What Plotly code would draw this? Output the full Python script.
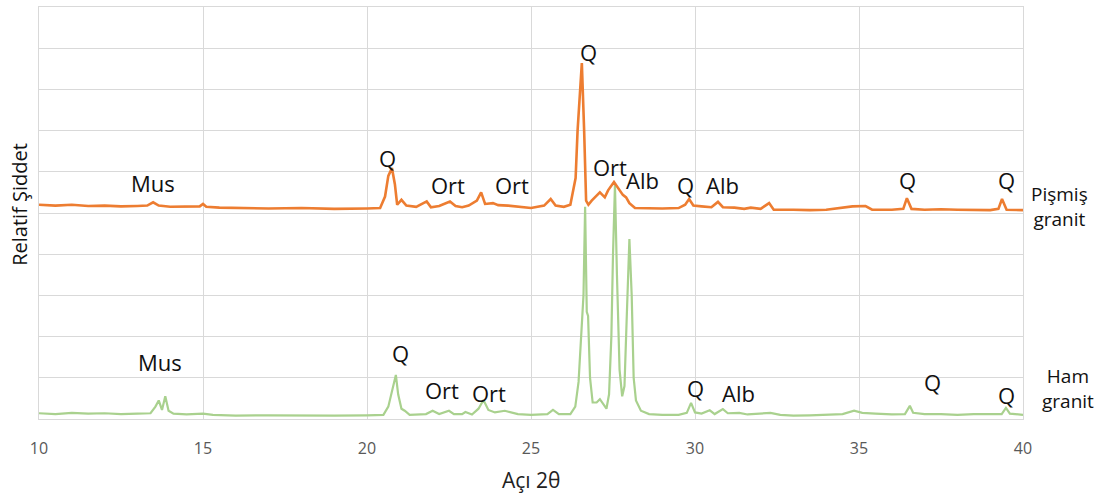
import plotly.graph_objects as go

# Ham granit (green) - 2theta and relative intensity
ham_x = [10.0, 10.5, 11.0, 11.5, 12.0, 12.5, 13.0, 13.4, 13.55, 13.65, 13.75, 13.85, 13.95, 14.1, 14.5,
         15.0, 15.3, 16.0, 17.0, 18.0, 19.0, 20.0, 20.5, 20.65, 20.8, 20.88, 20.95, 21.05, 21.15, 21.3,
         21.8, 22.0, 22.2, 22.5, 22.65, 22.9, 23.0, 23.2, 23.4, 23.55, 23.7, 23.9, 24.2, 24.4, 24.6,
         25.0, 25.5, 25.67, 25.85, 26.2, 26.35, 26.45, 26.52, 26.6, 26.65, 26.7, 26.74, 26.8, 26.88,
         27.0, 27.1, 27.2, 27.3, 27.38, 27.45, 27.5, 27.56, 27.62, 27.7, 27.78, 27.85, 27.92, 28.0,
         28.07, 28.13, 28.2, 28.35, 28.6, 29.0, 29.5, 29.75, 29.88, 30.0, 30.2, 30.45, 30.6, 30.85,
         31.0, 31.35, 31.6, 32.3, 32.6, 33.0, 33.5, 34.0, 34.5, 34.85, 35.1, 35.5, 36.0, 36.4, 36.55,
         36.65, 37.0, 37.5, 38.0, 38.5, 39.0, 39.35, 39.48, 39.6, 40.0]
ham_y = [0.14, 0.12, 0.15, 0.13, 0.14, 0.12, 0.13, 0.14, 0.30, 0.45, 0.22, 0.55, 0.20, 0.13, 0.11,
         0.13, 0.10, 0.08, 0.09, 0.08, 0.08, 0.09, 0.10, 0.30, 0.80, 1.07, 0.60, 0.25, 0.20, 0.10,
         0.12, 0.20, 0.12, 0.20, 0.12, 0.12, 0.17, 0.11, 0.25, 0.46, 0.22, 0.16, 0.20, 0.16, 0.12,
         0.10, 0.12, 0.22, 0.12, 0.12, 0.30, 0.90, 1.80, 3.00, 5.15, 2.60, 2.50, 1.00, 0.40,
         0.40, 0.48, 0.35, 0.25, 0.60, 2.00, 4.00, 5.68, 3.50, 1.20, 0.55, 0.80, 2.50, 4.37,
         3.00, 1.00, 0.45, 0.20, 0.12, 0.10, 0.10, 0.15, 0.39, 0.16, 0.13, 0.21, 0.12, 0.24,
         0.14, 0.15, 0.11, 0.15, 0.10, 0.08, 0.09, 0.10, 0.12, 0.20, 0.15, 0.13, 0.11, 0.12, 0.32,
         0.15, 0.12, 0.12, 0.10, 0.12, 0.11, 0.12, 0.27, 0.13, 0.10]

# Pişmiş granit (orange), plotted with vertical offset
pis_x = [10.0, 10.5, 11.0, 11.5, 12.0, 12.5, 13.0, 13.3, 13.48, 13.65, 14.0, 14.5, 14.9, 15.0, 15.1,
         15.5, 16.0, 17.0, 18.0, 19.0, 20.0, 20.4, 20.55, 20.65, 20.76, 20.85, 20.92, 21.05, 21.2,
         21.5, 21.82, 21.95, 22.2, 22.53, 22.7, 22.9, 23.1, 23.35, 23.48, 23.6, 23.84, 24.0, 24.3,
         24.6, 25.0, 25.4, 25.6, 25.75, 26.0, 26.2, 26.28, 26.36, 26.42, 26.5, 26.55, 26.62, 26.68,
         26.75, 26.85, 27.0, 27.1, 27.25, 27.35, 27.53, 27.65, 27.8, 27.9, 28.0, 28.17, 28.5, 29.0,
         29.5, 29.7, 29.82, 29.95, 30.2, 30.5, 30.7, 30.85, 31.2, 31.5, 31.7, 32.0, 32.26, 32.4,
         33.0, 33.5, 34.0, 34.5, 34.8, 35.2, 35.4, 36.0, 36.35, 36.46, 36.6, 37.0, 37.5, 38.0, 38.5,
         39.0, 39.25, 39.36, 39.5, 40.0]
pis_y = [5.20, 5.18, 5.20, 5.17, 5.18, 5.16, 5.17, 5.18, 5.26, 5.18, 5.15, 5.16, 5.16, 5.22, 5.15,
         5.13, 5.12, 5.11, 5.12, 5.10, 5.11, 5.12, 5.40, 5.90, 6.09, 5.70, 5.20, 5.32, 5.18,
         5.15, 5.28, 5.14, 5.17, 5.28, 5.17, 5.14, 5.18, 5.30, 5.50, 5.22, 5.24, 5.19, 5.18,
         5.15, 5.12, 5.18, 5.34, 5.18, 5.15, 5.20, 5.50, 5.85, 7.00, 8.10, 8.64, 7.00, 5.30,
         5.20, 5.30, 5.42, 5.50, 5.38, 5.55, 5.75, 5.60, 5.44, 5.38, 5.24, 5.12, 5.11, 5.11,
         5.12, 5.20, 5.34, 5.18, 5.16, 5.14, 5.27, 5.14, 5.13, 5.10, 5.13, 5.10, 5.24, 5.08,
         5.08, 5.07, 5.08, 5.12, 5.16, 5.17, 5.08, 5.08, 5.10, 5.36, 5.10, 5.08, 5.09, 5.08, 5.08,
         5.07, 5.10, 5.34, 5.08, 5.07]

# Phase labels
pis_lbl = ["Mus", "Q", "Ort", "Ort", "Q", "Ort", "Alb", "Q", "Alb", "Q", "Q"]
pis_lbl_x = [13.48, 20.64, 22.47, 24.42, 26.74, 27.41, 28.41, 29.70, 30.85, 36.49, 39.51]
pis_lbl_y = [5.73, 6.33, 5.68, 5.68, 8.91, 6.12, 5.80, 5.68, 5.68, 5.80, 5.80]

ham_lbl = ["Mus", "Q", "Ort", "Ort", "Q", "Alb", "Q", "Q"]
ham_lbl_x = [13.69, 21.01, 22.29, 23.72, 30.03, 31.34, 37.23, 39.51]
ham_lbl_y = [1.38, 1.60, 0.70, 0.63, 0.75, 0.63, 0.90, 0.58]

x_ticks = [10, 15, 20, 25, 30, 35, 40]

FONT = "Open Sans"
fig = go.Figure()
fig.add_trace(go.Scatter(x=ham_x, y=ham_y, mode="lines",
                         line=dict(color="#A9D18E", width=2.2), showlegend=False))
fig.add_trace(go.Scatter(x=pis_x, y=pis_y, mode="lines",
                         line=dict(color="#ED7D31", width=2.6), showlegend=False))

ann = []
for t, x, y in zip(pis_lbl, pis_lbl_x, pis_lbl_y):
    ann.append(dict(text=t, x=x, y=y, xref="x", yref="y", showarrow=False,
                    xanchor="center", yanchor="middle",
                    font=dict(family=FONT, size=22, color="#111111")))
for t, x, y in zip(ham_lbl, ham_lbl_x, ham_lbl_y):
    ann.append(dict(text=t, x=x, y=y, xref="x", yref="y", showarrow=False,
                    xanchor="center", yanchor="middle",
                    font=dict(family=FONT, size=22, color="#111111")))
ann.append(dict(text="Pişmiş<br>granit", x=1.0376, y=5.15, xref="paper", yref="y",
                xanchor="center", yanchor="middle",
                showarrow=False, font=dict(family=FONT, size=19, color="#111111")))
ann.append(dict(text="Ham<br>granit", x=1.0457, y=0.75, xref="paper", yref="y",
                xanchor="center", yanchor="middle",
                showarrow=False, font=dict(family=FONT, size=19, color="#111111")))
ann.append(dict(text="Açı 2θ", x=0.5, y=-0.148, xref="paper", yref="paper",
                xanchor="center", yanchor="middle",
                showarrow=False, font=dict(family=FONT, size=21, color="#222222")))
ann.append(dict(text="Relatif Şiddet", x=-0.0193, y=0.52, xref="paper", yref="paper",
                xanchor="center", yanchor="middle",
                textangle=-90, showarrow=False, font=dict(family=FONT, size=20, color="#111111")))

fig.update_layout(
    width=1100, height=500,
    margin=dict(l=39, r=77, t=7, b=81),
    paper_bgcolor="white", plot_bgcolor="white",
    annotations=ann,
    xaxis=dict(range=[10, 40], tickvals=x_ticks, ticktext=[str(v) for v in x_ticks],
               showgrid=True, gridcolor="#D9D9D9", gridwidth=1,
               showline=True, linecolor="#D9D9D9", linewidth=1, mirror=True,
               zeroline=False, ticks="", ticklabelstandoff=15,
               tickfont=dict(family=FONT, size=16, color="#595959")),
    yaxis=dict(range=[0, 10], dtick=1, showticklabels=False,
               showgrid=True, gridcolor="#D9D9D9", gridwidth=1,
               showline=True, linecolor="#D9D9D9", linewidth=1, mirror=True,
               zeroline=False, ticks=""),
)

fig.write_html("out.html")
